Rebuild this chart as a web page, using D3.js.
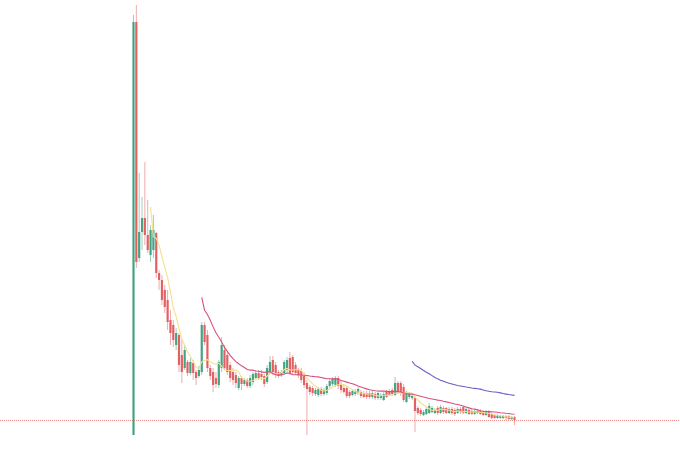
<!DOCTYPE html>
<html>
<head>
<meta charset="utf-8">
<script src="https://cdn.jsdelivr.net/npm/d3@7/dist/d3.min.js"></script>
<style>
  html, body { margin: 0; padding: 0; background: #ffffff; }
  svg { display: block; }
</style>
</head>
<body>
<svg id="chart" width="680" height="458"></svg>
<script>
// OHLC data (price units)
const openV = [5,418,182,208,222,205,185,190,207,167,160,150,140,120,115,95,105,85,72,78,
  67,77,68,64,68,115,105,72,68,62,55,72,90,85,75,68,65,52,62,56,
  60,54,58,62,67,66,64,58,68,80,75,68,65,67,70,82,83,75,70,69,
  64,57,53,52,46,45,51,46,47,54,56,55,62,56,52,52,48,45,46,47,
  48,47,47,47,43,46,42,42,40,48,49,50,45,57,57,53,38,43,42,42,
  32,30,25,26,27,28,27,32,27,32,32,27,31,30,27,31,33,27,30,29,
  26,27,29,28,25,28,26,25,22,22,22,24,24,21,23];
const highV = [425,435,267,243,278,240,215,225,208,170,165,155,150,130,120,112,107,100,94,80,
  82,80,70,74,118,118,110,75,72,68,80,103,95,88,78,72,68,64,64,62,
  62,65,68,70,70,70,66,75,84,84,78,70,70,80,83,88,85,78,72,72,
  68,60,55,54,52,53,53,52,56,61,63,64,64,60,55,54,50,51,51,53,
  50,49,49,49,49,48,49,47,48,50,51,52,63,59,59,56,49,48,46,44,
  34,32,30,33,37,34,32,34,35,34,33,33,33,32,33,33,34,33,32,31,
  31,31,31,30,30,30,28,26,26,25,25,25,25,24,24];
const lowV = [5,172,178,190,195,187,178,182,162,150,135,127,110,95,93,90,68,57,70,64,
  65,60,55,62,65,95,68,60,48,52,52,68,70,65,58,55,52,50,50,54,
  52,52,55,60,60,60,53,56,66,65,62,62,63,65,67,65,66,65,62,57,
  52,5,45,44,44,43,44,44,45,52,54,53,51,47,46,42,42,44,44,45,
  42,42,41,41,41,40,40,40,39,42,44,44,44,46,44,38,37,41,40,8,
  25,24,24,25,26,27,26,25,26,26,26,26,25,24,26,26,26,26,25,25,
  25,26,25,24,24,22,21,21,21,21,21,20,20,20,15];
const closeV = [418,178,208,222,205,190,210,210,167,160,140,133,118,107,100,107,75,68,90,67,
  78,67,62,70,115,98,72,64,55,56,78,95,72,68,62,60,57,62,56,60,
  54,62,66,67,62,63,56,72,78,68,65,64,68,78,80,67,68,67,65,60,
  55,51,48,47,50,51,46,50,54,59,61,62,54,50,48,44,44,49,49,51,
  44,43,43,43,47,42,47,45,46,43,45,46,57,48,47,40,47,46,44,29,
  27,26,28,31,34,32,30,27,33,28,27,31,27,26,31,28,27,31,26,26,
  29,29,26,25,28,23,22,22,25,24,24,22,21,23,20];
const maPeriods = [7, 25, 99];

const upColor = "#3a9d7c", downColor = "#e0585a";
const maColors = ["#f6e08c", "#d9507f", "#6a5cc4"];

const n = closeV.length;
const candles = d3.range(n).map(i => ({
  i, o: openV[i], h: highV[i], l: lowV[i], c: closeV[i]
}));

const svg = d3.select("#chart");
const x = d3.scaleLinear().domain([0, n - 1]).range([133.5, 514.5]);
const y = d3.scaleLinear().domain([0, 440]).range([440, 0]);
const bodyW = 2.2;

// last price line
const last = candles[n - 1];
svg.append("line")
  .attr("x1", 0).attr("x2", 680)
  .attr("y1", y(last.c) + 0.5).attr("y2", y(last.c) + 0.5)
  .attr("stroke", last.c >= last.o ? upColor : downColor)
  .attr("stroke-opacity", 0.7)
  .attr("stroke-width", 1)
  .attr("stroke-dasharray", "1 1");

const g = svg.append("g");
// wicks
g.selectAll("line.wick").data(candles).join("line")
  .attr("class", "wick")
  .attr("x1", d => x(d.i)).attr("x2", d => x(d.i))
  .attr("y1", d => y(d.h)).attr("y2", d => y(d.l))
  .attr("stroke", d => d.c >= d.o ? upColor : downColor)
  .attr("stroke-opacity", 0.5)
  .attr("stroke-width", 1);
// bodies
g.selectAll("rect.body").data(candles).join("rect")
  .attr("class", "body")
  .attr("x", d => x(d.i) - bodyW / 2)
  .attr("width", bodyW)
  .attr("y", d => y(Math.max(d.o, d.c)))
  .attr("height", d => Math.max(1, Math.abs(y(d.o) - y(d.c))))
  .attr("fill", d => d.c >= d.o ? upColor : downColor)
  .attr("fill-opacity", 0.92);

// moving averages
maPeriods.forEach((p, k) => {
  const pts = [];
  for (let i = p - 1; i < n; i++) {
    pts.push({ i, v: d3.mean(closeV.slice(i - p + 1, i + 1)) });
  }
  svg.append("path")
    .datum(pts)
    .attr("fill", "none")
    .attr("stroke", maColors[k])
    .attr("stroke-width", 1.1)
    .attr("d", d3.line().x(d => x(d.i)).y(d => y(d.v)));
});
</script>
</body>
</html>
